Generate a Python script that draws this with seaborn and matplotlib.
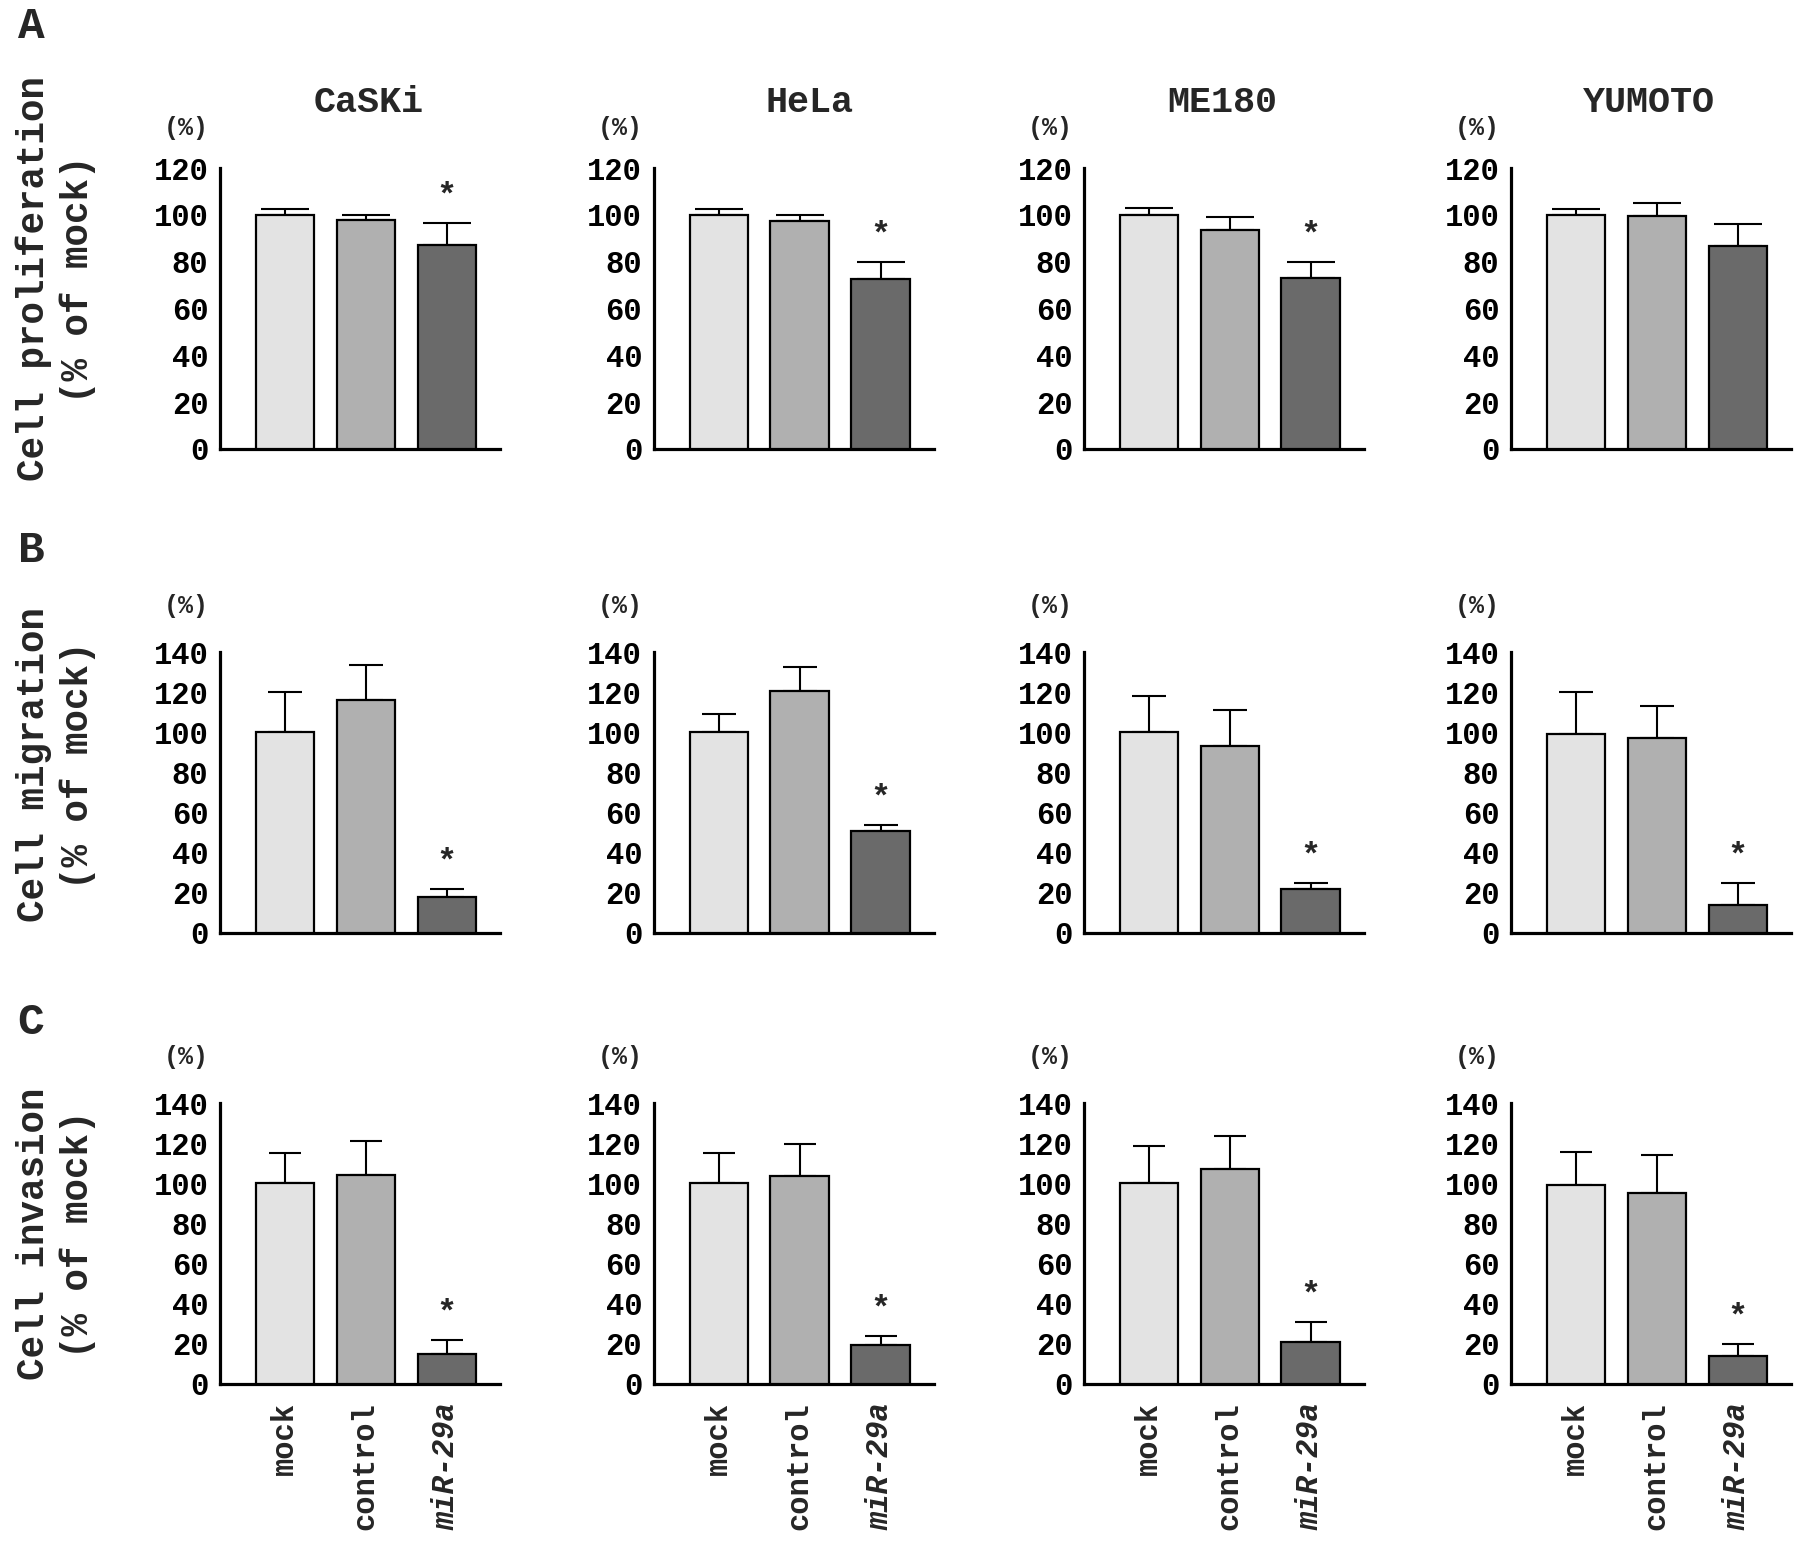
import matplotlib
matplotlib.use("Agg")
import matplotlib.pyplot as plt
import seaborn as sns
import pandas as pd

# ---------------- data ----------------
cell_lines = ["CaSKi", "HeLa", "ME180", "YUMOTO"]
groups = ["mock", "control", "miR-29a"]

prolif_mean = [[100, 98, 87], [100, 97.5, 72.5], [100, 93.5, 73], [100, 99.5, 86.5]]
prolif_sd = [[2.5, 2, 9.5], [2.5, 2.5, 7.5], [3, 5.5, 7], [2.5, 5.5, 9.5]]
prolif_sig = [[0, 0, 1], [0, 0, 1], [0, 0, 1], [0, 0, 0]]

migr_mean = [[100, 116, 18], [100, 120.5, 51], [100, 93, 22], [99, 97, 14]]
migr_sd = [[20, 17.5, 4], [9, 12, 3], [18, 18, 3], [21, 16, 11]]
migr_sig = [[0, 0, 1], [0, 0, 1], [0, 0, 1], [0, 0, 1]]

inv_mean = [[100, 104, 15], [100, 103.5, 19.5], [100, 107, 21], [99, 95, 14]]
inv_sd = [[15, 17, 7], [15, 16, 4.5], [18.5, 16.5, 10], [16.5, 19, 6]]
inv_sig = [[0, 0, 1], [0, 0, 1], [0, 0, 1], [0, 0, 1]]

row_letters = ["A", "B", "C"]
row_titles = ["Cell proliferation", "Cell migration", "Cell invasion"]
row_sub = "(% of mock)"
row_ymax = [120, 140, 140]

bar_colors = ["#e3e3e3", "#b0b0b0", "#6a6a6a"]

# ---------------- style ----------------
sns.set_style("white")
MONO = ["Liberation Mono", "DejaVu Sans Mono"]
plt.rcParams["font.family"] = MONO
plt.rcParams["font.weight"] = "bold"

DPI = 100
fig = plt.figure(figsize=(17.95, 15.47), dpi=DPI)

lefts = [0.1226, 0.3643, 0.6039, 0.8418]
width = 0.156
bottoms = [0.7098, 0.3969, 0.1054]
height = 0.1816
capsizes = [17, 12, 11.5]
title_x = [322 / 1568, 707 / 1568, 1068 / 1568, 1440 / 1568]

rows = [(prolif_mean, prolif_sd, prolif_sig),
        (migr_mean, migr_sd, migr_sig),
        (inv_mean, inv_sd, inv_sig)]

px = 72.0 / DPI  # points per pixel

for r, (means, sds, sigs) in enumerate(rows):
    for c, line in enumerate(cell_lines):
        ax = fig.add_axes([lefts[c], bottoms[r], width, height])
        df = pd.DataFrame({"group": groups, "value": means[c]})
        sns.barplot(data=df, x="group", y="value", hue="group", order=groups,
                    hue_order=groups, palette=bar_colors, edgecolor="black",
                    linewidth=1.6, width=0.72, errorbar=None, legend=False,
                    ax=ax, zorder=3)
        ax.errorbar(range(len(groups)), means[c],
                    yerr=[[0] * len(groups), sds[c]], fmt="none",
                    ecolor="black", elinewidth=1.5, capsize=capsizes[r],
                    capthick=1.5, zorder=2)
        for i, s in enumerate(sigs[c]):
            if s:
                ax.annotate("*", xy=(i, means[c][i] + sds[c][i]),
                            xytext=(0, 27 * px), textcoords="offset points",
                            ha="center", va="center", fontsize=24,
                            fontweight="bold")
        ax.set_xlim(-0.8, 2.66)
        ax.set_ylim(0, row_ymax[r])
        ax.set_yticks(range(0, row_ymax[r] + 1, 20))
        ax.set_xlabel("")
        ax.set_ylabel("")
        for sp in ["top", "right"]:
            ax.spines[sp].set_visible(False)
        for sp in ["left", "bottom"]:
            ax.spines[sp].set_linewidth(2.3)
            ax.spines[sp].set_color("black")
        ax.tick_params(axis="y", direction="out", length=5.5, width=1.6,
                       pad=3, labelsize=22, colors="black")
        for t in ax.get_yticklabels():
            t.set_fontweight("bold")
        if r == 2:
            ax.set_xticks(range(len(groups)))
            ax.set_xticklabels(groups, rotation=90, ha="center", va="top",
                               fontsize=22, fontweight="bold")
            for t in ax.get_xticklabels():
                if t.get_text().startswith("miR"):
                    t.set_fontstyle("italic")
            ax.tick_params(axis="x", length=0, pad=13)
        else:
            ax.set_xticks([])
        ax.patch.set_alpha(0)
        # "(%)" unit label
        ax.annotate("(%)", xy=(0, 1), xycoords="axes fraction",
                    xytext=(-34 * px, (40 if r == 0 else 46) * px),
                    textcoords="offset points", ha="center", va="center",
                    fontsize=18, fontweight="bold")
        # column titles (first row only)
        if r == 0:
            fig.text(title_x[c], 1 - 102 / 1547, line, ha="center",
                     va="center", fontsize=26.5, fontweight="bold")

# row letters
letter_y = [1 - 26 / 1547, 1 - 550 / 1547, 1 - 1022 / 1547]
for r in range(3):
    fig.text(31 / 1795, letter_y[r], row_letters[r], ha="center", va="center",
             fontsize=32, fontweight="bold")

# row labels
label_y = [0.8197, 0.5055, 0.2022]
for r in range(3):
    fig.text(34 / 1795, label_y[r], row_titles[r], rotation=90, ha="center",
             va="center", fontsize=27, fontweight="bold")
    fig.text(78 / 1795, label_y[r], row_sub, rotation=90, ha="center",
             va="center", fontsize=27, fontweight="bold")

fig.savefig("out.png", dpi=DPI, facecolor="white")
